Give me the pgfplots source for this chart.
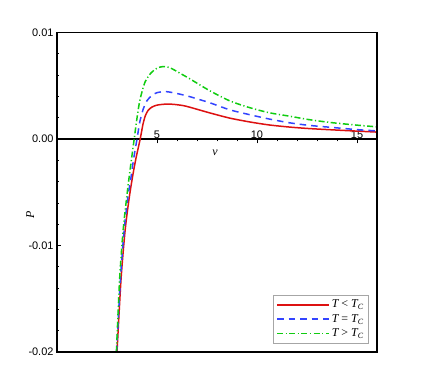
\documentclass[border=0pt]{standalone}
\usepackage{fontspec}
\setmainfont{Liberation Sans}
\newfontfamily\tms{Liberation Serif}
\usepackage{pgfplots}
\pgfplotsset{compat=1.18}
\definecolor{cred}{HTML}{DD1111}
\definecolor{cblue}{HTML}{3344FF}
\definecolor{cgreen}{HTML}{11CC11}

\begin{document}
\begin{tikzpicture}
\begin{axis}[
  name=ax,
  scale only axis, width=320bp, height=319.5bp,
  xmin=0, xmax=16, ymin=-0.02, ymax=0.01,
  axis x line=middle, axis y line=left,
  axis line style={-, line width=1.6bp, black},
  xtick={5,10,15}, minor x tick num=4,
  ytick={-0.02,-0.01,0,0.01}, minor y tick num=4,
  xtick align=outside, ytick align=inside,
  major tick length=4.5bp, minor tick length=2.5bp,
  tick style={black, line width=0.6bp},
  scaled y ticks=false,
  tick label style={font=\fontsize{11}{13}\selectfont},
  xticklabel style={anchor=south, yshift=1bp},
  yticklabel style={/pgf/number format/.cd, fixed, fixed zerofill, precision=2, assume math mode=true},
  xticklabel style={/pgf/number format/assume math mode=true},
  every axis x label/.style={at={(axis cs:7.9,0)}, anchor=north, yshift=-7bp},
  every axis y label/.style={at={(rel axis cs:-0.084,0.429)}, anchor=center, rotate=90},
  xlabel={\tms\itshape\fontsize{12}{14}\selectfont v},
  ylabel={\tms\itshape\fontsize{12}{14}\selectfont P},
  legend style={at={(rel axis cs:1,0)}, anchor=south east, xshift=-8bp, yshift=8.5bp,
    draw=gray!70, line width=0.8bp, fill=white,
    font=\tms\itshape\fontsize{12}{14}\selectfont, row sep=1bp, inner sep=3bp},
  legend cell align=left,
  legend image code/.code={\draw[#1] (0bp,0bp) -- (52bp,0bp);},
]
\addplot[cred, line width=1.5bp, smooth, tension=0.45] coordinates {
(3.00,-0.0200) (3.20,-0.0132) (3.41,-0.0085) (3.62,-0.0054) (3.80,-0.0033)
(3.95,-0.0018) (4.16,0.0000) (4.30,0.0014) (4.42,0.0022) (4.56,0.0027)
(4.75,0.0030) (5.00,0.00318) (5.40,0.00327) (5.80,0.00326) (6.30,0.00314)
(6.65,0.00298) (7.64,0.00245) (8.64,0.00196) (9.64,0.00160) (10.6,0.00132)
(11.63,0.00112) (12.6,0.00098) (13.67,0.00087) (15.0,0.00074) (16.0,0.00065)
};
\addlegendentry{T {\upshape<} T\textsubscript{C}}
\addplot[cblue, line width=1.5bp, dash pattern=on 6.5bp off 5bp, smooth, tension=0.45] coordinates {
(2.98,-0.0200) (3.17,-0.0132) (3.36,-0.0085) (3.55,-0.0054) (3.70,-0.0036)
(3.82,-0.0020) (4.00,0.0000) (4.14,0.0016) (4.31,0.0028) (4.50,0.0036)
(4.75,0.0041) (5.00,0.00435) (5.45,0.00445) (6.05,0.00425) (6.65,0.00397)
(7.64,0.00340) (8.64,0.00274) (9.64,0.00228) (10.6,0.00188) (11.63,0.00152)
(12.6,0.00128) (13.67,0.00110) (15.0,0.00088) (16.0,0.00076)
};
\addlegendentry{T {\upshape=} T\textsubscript{C}}
\addplot[cgreen, line width=1.5bp, dash pattern=on 6bp off 2.5bp on 1.2bp off 2.5bp, smooth, tension=0.45] coordinates {
(2.97,-0.0200) (3.13,-0.0132) (3.31,-0.0085) (3.54,-0.0046) (3.71,-0.0021)
(3.86,0.0000) (3.98,0.0017) (4.14,0.0036) (4.39,0.0053) (4.70,0.0062)
(5.00,0.00665) (5.30,0.00680) (5.64,0.00670) (6.22,0.00610) (6.65,0.00564)
(7.64,0.00453) (8.64,0.00358) (9.64,0.00294) (10.6,0.00247) (11.63,0.00214)
(12.6,0.00182) (13.67,0.00155) (15.0,0.00130) (16.0,0.00114)
};
\addlegendentry{T {\upshape>} T\textsubscript{C}}
\end{axis}
\draw[line width=1.8bp, black] (ax.south west) rectangle (ax.north east);
\path (ax.south west) ++(-57bp,-30bp) coordinate (bl);
\path (ax.north east) ++(52bp,32.5bp) coordinate (tr);
\path (bl) rectangle (tr);
\end{tikzpicture}
\end{document}
